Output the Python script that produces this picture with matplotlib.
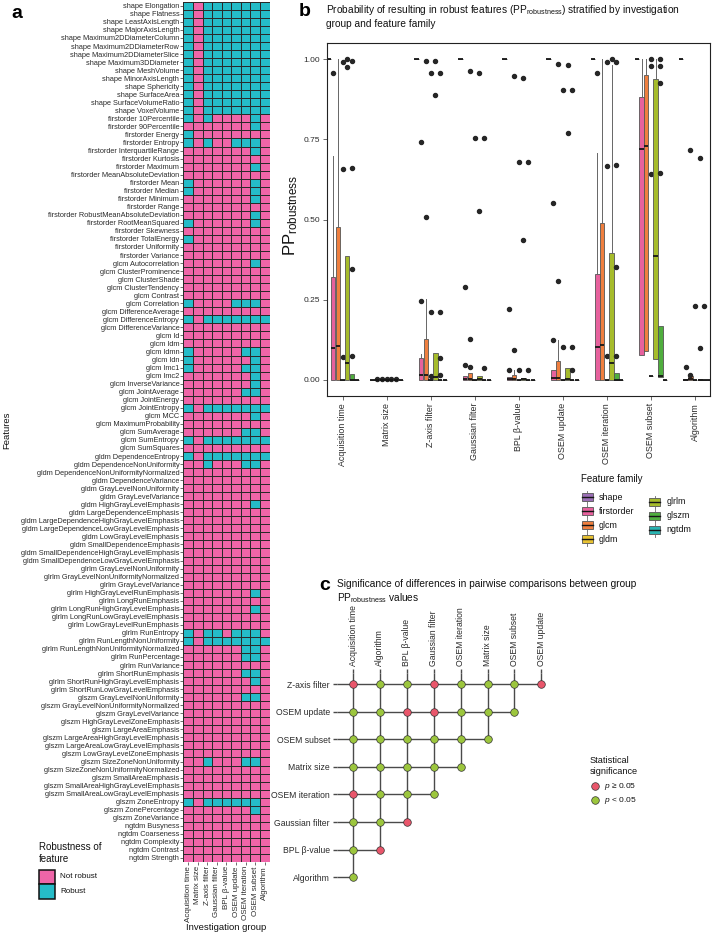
import numpy as np
import matplotlib
matplotlib.use("Agg")
import matplotlib.pyplot as plt
from matplotlib.colors import ListedColormap
from matplotlib.patches import Rectangle

plt.rcParams['font.family'] = ['Liberation Sans', 'DejaVu Sans']
plt.rcParams['mathtext.fontset'] = 'custom'
plt.rcParams['mathtext.rm'] = 'Liberation Sans'
plt.rcParams['mathtext.it'] = 'Liberation Sans:italic'

# ---------------- data ----------------
investigation_groups = ["Acquisition time", "Matrix size", "Z-axis filter", "Gaussian filter",
                        "BPL β-value", "OSEM update", "OSEM iteration", "OSEM subset", "Algorithm"]

shape_f = ["Elongation", "Flatness", "LeastAxisLength", "MajorAxisLength", "Maximum2DDiameterColumn",
           "Maximum2DDiameterRow", "Maximum2DDiameterSlice", "Maximum3DDiameter", "MeshVolume",
           "MinorAxisLength", "Sphericity", "SurfaceArea", "SurfaceVolumeRatio", "VoxelVolume"]
firstorder_f = ["10Percentile", "90Percentile", "Energy", "Entropy", "InterquartileRange", "Kurtosis",
                "Maximum", "MeanAbsoluteDeviation", "Mean", "Median", "Minimum", "Range",
                "RobustMeanAbsoluteDeviation", "RootMeanSquared", "Skewness", "TotalEnergy",
                "Uniformity", "Variance"]
glcm_f = ["Autocorrelation", "ClusterProminence", "ClusterShade", "ClusterTendency", "Contrast",
          "Correlation", "DifferenceAverage", "DifferenceEntropy", "DifferenceVariance", "Id", "Idm",
          "Idmn", "Idn", "Imc1", "Imc2", "InverseVariance", "JointAverage", "JointEnergy",
          "JointEntropy", "MCC", "MaximumProbability", "SumAverage", "SumEntropy", "SumSquares"]
gldm_f = ["DependenceEntropy", "DependenceNonUniformity", "DependenceNonUniformityNormalized",
          "DependenceVariance", "GrayLevelNonUniformity", "GrayLevelVariance", "HighGrayLevelEmphasis",
          "LargeDependenceEmphasis", "LargeDependenceHighGrayLevelEmphasis",
          "LargeDependenceLowGrayLevelEmphasis", "LowGrayLevelEmphasis", "SmallDependenceEmphasis",
          "SmallDependenceHighGrayLevelEmphasis", "SmallDependenceLowGrayLevelEmphasis"]
glrlm_f = ["GrayLevelNonUniformity", "GrayLevelNonUniformityNormalized", "GrayLevelVariance",
           "HighGrayLevelRunEmphasis", "LongRunEmphasis", "LongRunHighGrayLevelEmphasis",
           "LongRunLowGrayLevelEmphasis", "LowGrayLevelRunEmphasis", "RunEntropy",
           "RunLengthNonUniformity", "RunLengthNonUniformityNormalized", "RunPercentage",
           "RunVariance", "ShortRunEmphasis", "ShortRunHighGrayLevelEmphasis",
           "ShortRunLowGrayLevelEmphasis"]
glszm_f = ["GrayLevelNonUniformity", "GrayLevelNonUniformityNormalized", "GrayLevelVariance",
           "HighGrayLevelZoneEmphasis", "LargeAreaEmphasis", "LargeAreaHighGrayLevelEmphasis",
           "LargeAreaLowGrayLevelEmphasis", "LowGrayLevelZoneEmphasis", "SizeZoneNonUniformity",
           "SizeZoneNonUniformityNormalized", "SmallAreaEmphasis", "SmallAreaHighGrayLevelEmphasis",
           "SmallAreaLowGrayLevelEmphasis", "ZoneEntropy", "ZonePercentage", "ZoneVariance"]
ngtdm_f = ["Busyness", "Coarseness", "Complexity", "Contrast", "Strength"]

# robustness per investigation group (1 = robust), columns in investigation_groups order
shape_r = ["101111111", "101111111", "101111111", "101111111", "101111111", "101111111", "101111111",
           "101111111", "101111111", "101111111", "101111111", "101111111", "101111111", "101111111"]
firstorder_r = ["101000010", "000000010", "100000000", "101001110", "000000010", "000000000",
                "000000010", "000000000", "100000010", "100000010", "000000010", "000000000",
                "000000010", "100000010", "000000000", "100000000", "000000000", "000000000"]
glcm_r = ["000000010", "000000000", "000000000", "000000000", "000000000", "100001110",
          "000000000", "101111111", "000000000", "000000000", "000000000", "100000110",
          "100000010", "100000110", "000000010", "000000010", "000000110", "000000000",
          "101111111", "000000010", "000000000", "000000110", "101111111", "000000000"]
gldm_r = ["101111111", "001000110", "000000000", "000000000", "000000000", "000000000",
          "000000010", "000000000", "000000000", "000000000", "000000000", "000000000",
          "000000000", "000000000"]
glrlm_r = ["000000000", "000000000", "000000000", "000000010", "000000000", "000000010",
           "000000000", "000000000", "101101110", "101111111", "000000110", "000000110",
           "000000000", "000000110", "000000010", "000000000"]
glszm_r = ["000000110", "000000000", "000000000", "000000000", "000000000", "000000000",
           "000000000", "000000000", "001000110", "000000000", "000000000", "000000000",
           "000000000", "101111110", "000000010", "000000000"]
ngtdm_r = ["000000000", "000000000", "000000000", "000000000", "000000000"]

families = ["shape", "firstorder", "glcm", "gldm", "glrlm", "glszm", "ngtdm"]

# panel b: PP_robustness box statistics per family, per investigation group
pp_q1 = {
    "shape":      [1, 0, 1, 1, 1, 1, 1, 1, 1],
    "firstorder": [0, 0, 0, 0, 0, 0, 0, 0.078, 0],
    "glcm":       [0, 0, 0, 0, 0, 0, 0, 0.091, 0],
    "gldm":       [0, 0, 0, 0, 0, 0, 0, 0.012, 0],
    "glrlm":      [0, 0, 0, 0, 0, 0, 0, 0.064, 0],
    "glszm":      [0, 0, 0, 0, 0, 0, 0, 0.010, 0],
    "ngtdm":      [0, 0, 0, 0, 0, 0, 0, 0, 0],
}
pp_median = {
    "shape":      [1, 0, 1, 1, 1, 1, 1, 1, 1],
    "firstorder": [0.099, 0, 0.015, 0.002, 0.002, 0.005, 0.104, 0.721, 0],
    "glcm":       [0.106, 0, 0.015, 0.004, 0.003, 0.005, 0.109, 0.730, 0.004],
    "gldm":       [0, 0, 0, 0, 0, 0, 0, 0.012, 0],
    "glrlm":      [0.052, 0, 0.010, 0.003, 0.002, 0.003, 0.052, 0.386, 0],
    "glszm":      [0, 0, 0, 0, 0, 0, 0, 0.013, 0],
    "ngtdm":      [0, 0, 0, 0, 0, 0, 0, 0, 0],
}
pp_q3 = {
    "shape":      [1, 0, 1, 1, 1, 1, 1, 1, 1],
    "firstorder": [0.322, 0, 0.068, 0.012, 0.008, 0.031, 0.329, 0.883, 0.004],
    "glcm":       [0.478, 0, 0.128, 0.021, 0.016, 0.060, 0.488, 0.950, 0.012],
    "gldm":       [0, 0, 0, 0, 0, 0, 0, 0.012, 0],
    "glrlm":      [0.386, 0, 0.083, 0.012, 0.007, 0.036, 0.397, 0.937, 0.002],
    "glszm":      [0.019, 0, 0, 0, 0, 0, 0.021, 0.169, 0],
    "ngtdm":      [0, 0, 0, 0, 0, 0, 0, 0, 0],
}
pp_whishi = {
    "shape":      [1, 0, 1, 1, 1, 1, 1, 1, 1],
    "firstorder": [0.698, 0, 0.082, 0.012, 0.008, 0.031, 0.706, 1.0, 0.004],
    "glcm":       [1.0, 0, 0.251, 0.021, 0.031, 0.126, 1.0, 1.0, 0.012],
    "gldm":       [0, 0, 0, 0, 0, 0, 0, 0.012, 0],
    "glrlm":      [0.386, 0, 0.083, 0.012, 0.007, 0.036, 0.981, 1.0, 0.002],
    "glszm":      [0.019, 0, 0, 0, 0, 0, 0.021, 0.169, 0],
    "ngtdm":      [0, 0, 0, 0, 0, 0, 0, 0, 0],
}
pp_outliers = {
    "shape":      [[], [], [], [], [], [], [], [], []],
    "firstorder": [[0.955], [0.003], [0.742, 0.246], [0.289, 0.047], [0.220, 0.031],
                   [0.551, 0.123], [0.955], [], [0.039]],
    "glcm":       [[], [0.003], [0.994, 0.509], [0.963, 0.128, 0.040], [0.948, 0.093],
                   [0.986, 0.307], [], [], [0.718, 0.015]],
    "gldm":       [[0.992, 0.656, 0.073], [0.003], [0.955, 0.213, 0.012], [0.753], [0.680, 0.030],
                   [0.903, 0.104], [0.990, 0.667, 0.076], [1.0, 0.978, 0.642], [0.232]],
    "glrlm":      [[1.0, 0.975], [0.003], [0.994, 0.888], [0.958, 0.526], [0.940, 0.436],
                   [0.983, 0.771], [1.0], [], [0.693, 0.099]],
    "glszm":      [[0.994, 0.662, 0.345, 0.075], [0.003], [0.955, 0.213, 0.068, 0.015],
                   [0.755, 0.038], [0.680, 0.030], [0.903, 0.104, 0.030],
                   [0.990, 0.670, 0.353, 0.076], [1.0, 0.978, 0.924, 0.646], [0.232]],
    "ngtdm":      [[], [], [], [], [], [], [], [], []],
}

# panel c: pairwise comparisons (True = p < 0.05)
pair_cols = ["Acquisition time", "Algorithm", "BPL β-value", "Gaussian filter", "OSEM iteration",
             "Matrix size", "OSEM subset", "OSEM update"]
pair_rows = ["Z-axis filter", "OSEM update", "OSEM subset", "Matrix size", "OSEM iteration",
             "Gaussian filter", "BPL β-value", "Algorithm"]
pair_significant = [
    [False, True, True, False, True, True, True, False],
    [True, True, False, False, True, True, True],
    [True, True, True, True, True, True],
    [True, True, True, True, True],
    [False, True, True, True],
    [True, True, False],
    [True, False],
    [True],
]

# ---------------- styling ----------------
PINK = '#EF65A8'
TEAL = '#25BCC8'
FAM_COLORS = ['#9B6FB6', '#E7619D', '#EF7F3F', '#E8C232', '#A6BC2B', '#4FAE3E', '#2AB4B1']
RED = '#E9566B'
GREEN = '#9CC63D'
TXT = '#2b2b2b'

W, H = 714, 935
fig = plt.figure(figsize=(W / 100, H / 100), dpi=100)


def add_ax(l, t, r, b):
    return fig.add_axes([l / W, 1 - b / H, (r - l) / W, (b - t) / H])


# ---------------- panel a ----------------
features = (["shape " + f for f in shape_f] + ["firstorder " + f for f in firstorder_f] +
            ["glcm " + f for f in glcm_f] + ["gldm " + f for f in gldm_f] +
            ["glrlm " + f for f in glrlm_f] + ["glszm " + f for f in glszm_f] +
            ["ngtdm " + f for f in ngtdm_f])
robust = shape_r + firstorder_r + glcm_r + gldm_r + glrlm_r + glszm_r + ngtdm_r
mat = np.array([[int(c) for c in s] for s in robust])
nrow, ncol = mat.shape

axA = add_ax(183.5, 1.8, 269.5, 862)
axA.pcolormesh(np.arange(ncol + 1) - 0.5, np.arange(nrow + 1) - 0.5, mat,
               cmap=ListedColormap([PINK, TEAL]), vmin=0, vmax=1,
               edgecolors='#2a2a2a', linewidth=0.4)
axA.set_xlim(-0.5, ncol - 0.5)
axA.set_ylim(nrow - 0.5, -0.5)
axA.set_yticks(range(nrow))
axA.set_yticklabels(features, fontsize=5.3, color=TXT)
axA.set_xticks(range(ncol))
axA.set_xticklabels(investigation_groups, rotation=90, fontsize=5.8, color=TXT)
axA.tick_params(length=2, width=0.5, pad=1, color='#333333')
for s in axA.spines.values():
    s.set_visible(False)

# ---------------- panel b ----------------
axB = add_ax(327, 43, 710, 396)
axB.set_ylim(-0.05, 1.05)
axB.set_xlim(0.648, 9.34)
for k, fam in enumerate(families):
    stats = []
    for g in range(len(investigation_groups)):
        stats.append(dict(med=pp_median[fam][g], q1=pp_q1[fam][g], q3=pp_q3[fam][g],
                          whislo=pp_q1[fam][g], whishi=pp_whishi[fam][g],
                          fliers=pp_outliers[fam][g]))
    pos = np.arange(1, len(investigation_groups) + 1) + (k - 3) * 0.107
    axB.bxp(stats, positions=pos, widths=0.1, patch_artist=True, showcaps=False,
            showfliers=True, manage_ticks=False,
            boxprops=dict(facecolor=FAM_COLORS[k], edgecolor='#555555', linewidth=0.6),
            medianprops=dict(color='#151515', linewidth=1.3, solid_capstyle='butt'),
            whiskerprops=dict(color='#666666', linewidth=0.7),
            flierprops=dict(marker='o', markerfacecolor='#262626', markeredgecolor='#262626',
                            markersize=2.9, linestyle='none'))
axB.set_yticks([0, 0.25, 0.5, 0.75, 1.0])
axB.set_yticklabels(["0.00", "0.25", "0.50", "0.75", "1.00"], fontsize=6, color=TXT)
axB.set_xticks(range(1, 10))
axB.set_xticklabels(investigation_groups, rotation=90, fontsize=6.4, color=TXT)
axB.tick_params(length=3, width=0.5, pad=2, color='#333333')
for s in axB.spines.values():
    s.set_linewidth(0.8)
    s.set_color('#222222')

# ---------------- panel c ----------------
cx0, cdx = 353, 26.9
cy0, cdy = 684, 27.6
top_ext = 0.4
axC = add_ax(cx0 - 0.6 * cdx, cy0 - top_ext * cdy, cx0 + 7.6 * cdx, cy0 + 7.6 * cdy)
axC.set_xlim(-0.6, 7.6)
axC.set_ylim(7.6, -top_ext)
n = len(pair_cols)
for i in range(n):
    axC.plot([-0.6, len(pair_significant[i]) - 1], [i, i], color='#4a4a4a', lw=1.0, zorder=1,
             solid_capstyle='butt')
for j in range(n):
    last = max(i for i in range(n) if j < len(pair_significant[i]))
    axC.plot([j, j], [-top_ext, last], color='#4a4a4a', lw=1.0, zorder=1, solid_capstyle='butt')
for i, row in enumerate(pair_significant):
    for j, sig in enumerate(row):
        axC.scatter(j, i, s=30, color=GREEN if sig else RED, edgecolor='#333333',
                    linewidth=0.5, zorder=3)
axC.xaxis.tick_top()
axC.set_xticks(range(n))
axC.set_xticklabels(pair_cols, rotation=90, fontsize=6.2, color=TXT)
axC.set_yticks(range(n))
axC.set_yticklabels(pair_rows, fontsize=6.2, color=TXT)
axC.tick_params(length=3, width=1.0, pad=2, color='#4a4a4a')
for s in axC.spines.values():
    s.set_visible(False)
axC.patch.set_alpha(0)

# ---------------- overlay: titles, labels, legends ----------------
axO = fig.add_axes([0, 0, 1, 1])
axO.set_xlim(0, W)
axO.set_ylim(H, 0)
axO.axis('off')

axO.text(17, 13, "a", fontsize=14, fontweight='bold', ha='center', va='center')
axO.text(7, 430, "Features", fontsize=6.8, rotation=90, ha='center', va='center', color='#111')
axO.text(226, 928, "Investigation group", fontsize=6.8, ha='center', va='center', color='#111')
axO.text(39, 853, "Robustness of\nfeature", fontsize=7, ha='left', va='center',
         linespacing=1.3, color='#111')
axO.add_patch(Rectangle((39, 869.5), 16, 14.5, facecolor=PINK, edgecolor='#111', lw=1.1))
axO.add_patch(Rectangle((39, 884), 16, 14.5, facecolor=TEAL, edgecolor='#111', lw=1.1))
axO.text(60, 877, "Not robust", fontsize=5.8, ha='left', va='center', color='#111')
axO.text(60, 891.5, "Robust", fontsize=5.8, ha='left', va='center', color='#111')

axO.text(305, 11, "b", fontsize=14, fontweight='bold', ha='center', va='center')
axO.text(326, 10, r"Probability of resulting in robust features (PP$_{\mathregular{robustness}}$) "
                  "stratified by investigation", fontsize=7.3, ha='left', va='center', color='#111')
axO.text(326, 24, "group and feature family", fontsize=7.3, ha='left', va='center', color='#111')
axO.text(291, 216, r"PP$_{\mathregular{robustness}}$", fontsize=12, rotation=90,
         ha='center', va='center', color='#111')

axO.text(581, 479, "Feature family", fontsize=7, ha='left', va='center', color='#111')
leg_pos = [(587, 497), (587, 511), (587, 525), (587, 539), (654.5, 502), (654.5, 516), (654.5, 530)]
for k, fam in enumerate(families):
    cx, cy = leg_pos[k]
    axO.add_patch(Rectangle((cx - 5.5, cy - 4), 11, 8, facecolor=FAM_COLORS[k],
                            edgecolor='#555555', lw=0.6))
    axO.plot([cx - 5.5, cx + 5.5], [cy, cy], color='#151515', lw=1.0)
    axO.plot([cx, cx], [cy - 6.5, cy - 4], color='#666666', lw=0.6)
    axO.plot([cx, cx], [cy + 4, cy + 6.5], color='#666666', lw=0.6)
    axO.text(cx + 12, cy, fam, fontsize=6.4, ha='left', va='center', color='#111')

axO.text(325, 585, "c", fontsize=14, fontweight='bold', ha='center', va='center')
axO.text(337, 584, "Significance of differences in pairwise comparisons between group",
         fontsize=7.3, ha='left', va='center', color='#111')
axO.text(337, 598, r"PP$_{\mathregular{robustness}}$ values", fontsize=7.3, ha='left',
         va='center', color='#111')

axO.text(590, 766, "Statistical\nsignificance", fontsize=6.6, ha='left', va='center',
         linespacing=1.2, color='#111')
axO.scatter([595], [786], s=30, color=RED, edgecolor='#333333', linewidth=0.5)
axO.scatter([595], [800], s=30, color=GREEN, edgecolor='#333333', linewidth=0.5)
axO.text(604, 786, r"$\mathit{p}$ ≥ 0.05", fontsize=6, ha='left', va='center', color='#111')
axO.text(604, 800, r"$\mathit{p}$ < 0.05", fontsize=6, ha='left', va='center', color='#111')

fig.savefig("out.png", dpi=100)
